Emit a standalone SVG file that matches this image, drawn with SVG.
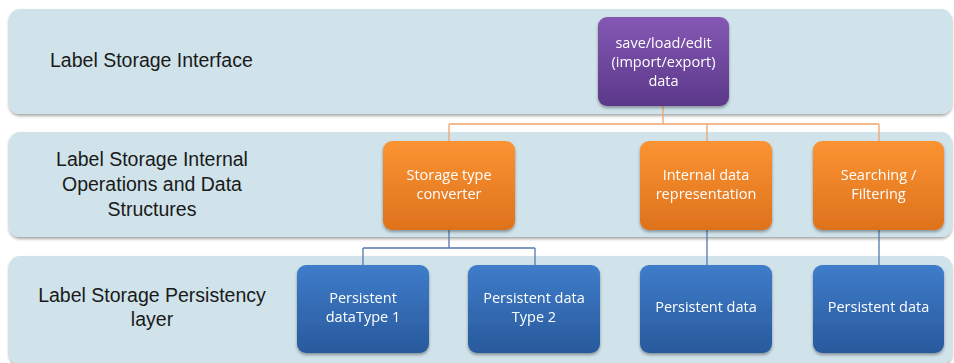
<svg xmlns="http://www.w3.org/2000/svg" width="954" height="363" viewBox="0 0 954 363">
<defs>
<linearGradient id="gPurple" x1="0" y1="0" x2="0" y2="1"><stop offset="0" stop-color="#8458b4"/><stop offset="1" stop-color="#5b3889"/></linearGradient>
<linearGradient id="gOrange" x1="0" y1="0" x2="0" y2="1"><stop offset="0" stop-color="#fb9332"/><stop offset="1" stop-color="#de721d"/></linearGradient>
<linearGradient id="gBlue" x1="0" y1="0" x2="0" y2="1"><stop offset="0" stop-color="#3f7cca"/><stop offset="1" stop-color="#285a9c"/></linearGradient>
<filter id="sh" x="-10%" y="-10%" width="120%" height="130%"><feDropShadow dx="0" dy="2" stdDeviation="1.6" flood-color="#000" flood-opacity="0.35"/></filter>
</defs>
<style>
.band{fill:#d0e2ea;filter:url(#sh)}
.node{filter:url(#sh)}
.lbl{font-family:"Liberation Sans",Arial,sans-serif;font-size:19.5px;fill:#1a1a1a}
.nt{font-family:"Open Sans","Liberation Sans",sans-serif;font-size:14.5px;fill:#ffffff;text-anchor:middle}
.oc{stroke:#f2a468;stroke-width:1.3;fill:none}
.bc{stroke:#5578ad;stroke-width:1.3;fill:none}
</style>
<rect width="954" height="363" fill="#ffffff"/>
<g id="bands">
<rect class="band" x="9" y="9" width="943" height="105" rx="11"/>
<rect class="band" x="9" y="132" width="943" height="105" rx="11"/>
<rect class="band" x="9" y="256" width="943" height="108" rx="11"/>
<text class="lbl" x="50" y="67">Label Storage Interface</text>
<text class="lbl" text-anchor="middle" x="152" y="166">Label Storage Internal</text>
<text class="lbl" text-anchor="middle" x="152" y="191">Operations and Data</text>
<text class="lbl" text-anchor="middle" x="152" y="216">Structures</text>
<text class="lbl" text-anchor="middle" x="152" y="302">Label Storage Persistency</text>
<text class="lbl" text-anchor="middle" x="152" y="326">layer</text>
</g>
<g id="connectors">
<path class="oc" d="M663 105V124M449 124H879M449 124V141M707 124V141M879 124V141"/>
<path class="bc" d="M449 229V248M363 248H535M363 248V265M535 248V265M707 229V265M879 229V265"/>
</g>
<g id="n_interface" class="node">
<rect x="598" y="17" width="131" height="89" rx="9" fill="url(#gPurple)"/>
<text class="nt" x="663.5" y="48">save/load/edit</text>
<text class="nt" x="663.5" y="67">(import/export)</text>
<text class="nt" x="663.5" y="86">data</text>
</g>
<g id="n_converter" class="node">
<rect x="383" y="141" width="132" height="89" rx="9" fill="url(#gOrange)"/>
<text class="nt" x="449" y="180">Storage type</text>
<text class="nt" x="449" y="199">converter</text>
</g>
<g id="n_internal" class="node">
<rect x="640" y="141" width="132" height="89" rx="9" fill="url(#gOrange)"/>
<text class="nt" x="706" y="180">Internal data</text>
<text class="nt" x="706" y="199">representation</text>
</g>
<g id="n_search" class="node">
<rect x="813" y="141" width="131" height="89" rx="9" fill="url(#gOrange)"/>
<text class="nt" x="878.5" y="180">Searching /</text>
<text class="nt" x="878.5" y="199">Filtering</text>
</g>
<g id="n_p1" class="node">
<rect x="297" y="265" width="132" height="88" rx="9" fill="url(#gBlue)"/>
<text class="nt" x="363" y="303">Persistent</text>
<text class="nt" x="363" y="322">dataType 1</text>
</g>
<g id="n_p2" class="node">
<rect x="468" y="265" width="132" height="88" rx="9" fill="url(#gBlue)"/>
<text class="nt" x="534" y="303">Persistent data</text>
<text class="nt" x="534" y="322">Type 2</text>
</g>
<g id="n_p3" class="node">
<rect x="640" y="265" width="132" height="88" rx="9" fill="url(#gBlue)"/>
<text class="nt" x="706" y="312">Persistent data</text>
</g>
<g id="n_p4" class="node">
<rect x="813" y="265" width="131" height="88" rx="9" fill="url(#gBlue)"/>
<text class="nt" x="878.5" y="312">Persistent data</text>
</g>
</svg>
